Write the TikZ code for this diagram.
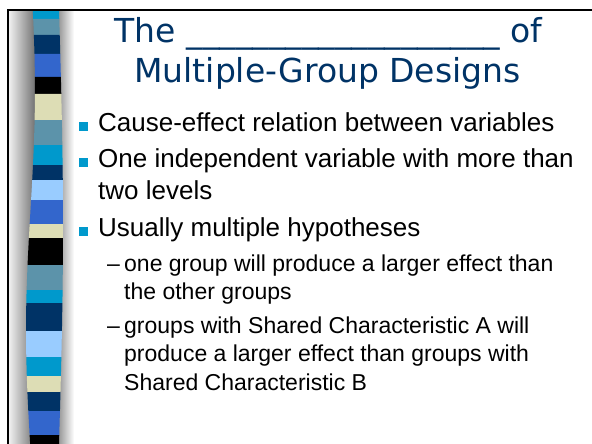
\documentclass[tikz,border=0pt]{standalone}
\usepackage{fontspec}
\setmainfont{Liberation Sans}
\newfontfamily\bodyfont{Liberation Sans}
\newfontfamily\titlefont{DejaVu Sans}
\usetikzlibrary{positioning}
\definecolor{SNavy}{HTML}{003366}
\definecolor{SCyan}{HTML}{0099CC}
\definecolor{SSteel}{HTML}{5C93AA}
\definecolor{SRoyal}{HTML}{3366CC}
\definecolor{SLight}{HTML}{99CCFF}
\definecolor{SBeige}{HTML}{DDDDB5}
\tikzset{
    titletext/.style={inner sep=0pt, anchor=base, font=\titlefont\fontsize{33}{40}\selectfont, text=SNavy},
    bodytext/.style={inner sep=0pt, anchor=base west, font=\bodyfont\fontsize{26}{31}\selectfont},
    subtext/.style={inner sep=0pt, anchor=base west, font=\bodyfont\fontsize{23}{28}\selectfont},
    bulletsq/.style={rectangle, fill=SCyan, minimum size=9pt, inner sep=0pt, anchor=south west},
    framerule/.style={draw=black, line width=2pt}
}
\begin{document}
\begin{tikzpicture}[x=1pt, y=-1pt,
    declare function={stripL(\yy)=30.5+4.5*sin(0.75*(\yy+30)); stripR(\yy)=59+4*sin(0.4147*(\yy-10));}]
    \useasboundingbox[fill=white] (0,0) rectangle (592,444);

    % Side strip with shadow
    \shade[left color=black!6, right color=black!55] (9,10) rectangle (35,444);
    \shade[left color=black!45, right color=white] (57,10) rectangle (74,444);
    \foreach \ya/\yb/\col in {10/19/SCyan, 19/35/SSteel, 35/54/SNavy, 54/77/SRoyal, 77/94/black,
        94/120/SBeige, 120/145/SSteel, 145/165/SCyan, 165/180/SNavy, 180/200/SLight, 200/224/SRoyal,
        224/238/SBeige, 238/265/black, 265/290/SSteel, 290/303/SCyan, 303/331/SNavy, 331/357/SLight,
        357/376/SCyan, 376/392/SBeige, 392/411/SNavy, 411/435/SRoyal, 435/444/black}
        \fill[\col] ({stripL(\ya)},\ya) -- ({stripR(\ya)},\ya) -- ({stripR(\yb)},\yb) -- ({stripL(\yb)},\yb) -- cycle;
    \draw[framerule] (7.5,444) -- (7.5,10) -- (592,10);

    % Title
    \node[titletext] (title1) at (328.5,43) {The \_\_\_\_\_\_\_\_\_\_\_\_\_\_\_\_\_\_\_ of};
    \node[titletext] (title2) at (327.5,82.5) {Multiple-Group Designs};

    % Bullets
    \node[bulletsq] (b1) at (78.3,131) {};
    \node[bodytext] (cause) at (98,131) {Cause-effect relation between variables};
    \node[bulletsq] (b2) at (78.3,167.5) {};
    \node[bodytext] (one) at (98,167.5) {One independent variable with more than};
    \node[bodytext] (two) at (98,199.5) {two levels};
    \node[bulletsq] (b3) at (78.3,236) {};
    \node[bodytext] (usually) at (98,236) {Usually multiple hypotheses};

    % Sub-bullets
    \node[subtext] (d1) at (107,271) {–};
    \node[subtext] (hypa) at (124,271) {one group will produce a larger effect than};
    \node[subtext] (hypa2) at (124,299.5) {the other groups};
    \node[subtext] (d2) at (107,333) {–};
    \node[subtext] (hypb) at (124,333) {groups with Shared Characteristic A will};
    \node[subtext] (hypb2) at (124,361.5) {produce a larger effect than groups with};
    \node[subtext] (hypb3) at (124,390) {Shared Characteristic B};
\end{tikzpicture}
\end{document}
